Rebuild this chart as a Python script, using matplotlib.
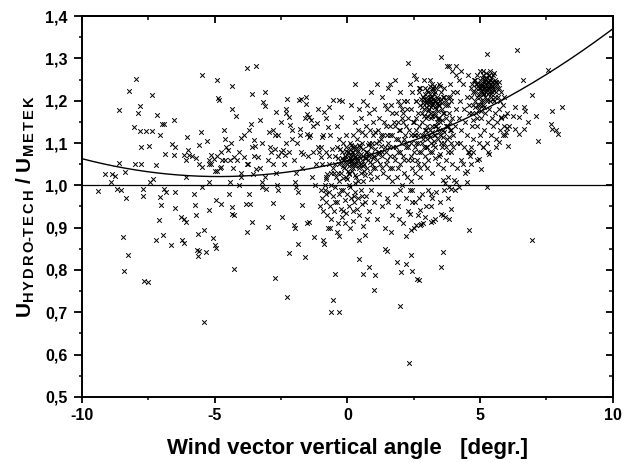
import numpy as np
import matplotlib
matplotlib.use("Agg")
import matplotlib.pyplot as plt
from matplotlib.ticker import MultipleLocator, FuncFormatter

# ---------------- data ----------------
fit_coef = [1.058, 0.01535, 0.001585]   # quadratic fit: a + b*x + c*x^2
ref_level = 1.0

pts_sparse = [
    (-9.39,0.986),(-9.12,1.028),(-8.87,1.028),(-8.75,1.021),(-8.9,1.008),(-8.68,0.992),(-8.55,0.988),
    (-8.62,1.053),(-8.6,1.179),(-8.38,1.031),(-8.34,0.969),(-8.46,0.878),(-8.25,0.835),(-8.43,0.798),
    (-8.24,1.224),(-8.03,1.139),(-8.0,1.051),(-7.79,1.051),(-7.97,1.252),(-7.9,1.171),(-7.82,1.187),
    (-7.82,1.128),(-7.58,1.128),(-7.37,1.128),(-7.78,1.09),(-7.46,1.093),(-7.70,0.992),(-7.72,0.976),
    (-7.37,1.214),(-7.43,1.008),(-7.31,1.016),(-7.66,0.774),(-7.51,0.772),(-7.2,1.049),(-7.16,1.167),
    (-7.05,1.120),(-7.0,1.146),(-6.9,1.146),(-7.08,0.972),(-7.02,0.953),(-7.1,0.917),(-7.22,0.870),
    (-6.93,0.882),(-6.9,0.992),(-6.82,0.984),(-6.88,1.073),(-6.55,1.154),(-6.6,1.098),(-6.49,1.090),
    (-6.65,0.858),(-6.52,1.071),(-6.5,0.984),(-6.26,0.925),(-6.14,0.921),(-6.5,0.947),(-6.07,0.913),
    (-6.14,0.864),(-6.22,0.870),(-6.1,1.020),(-6.04,1.114),(-6.14,1.071),(-5.96,1.071),(-6.1,1.059),
    (-6.0,1.083),(-5.84,1.069),(-5.7,1.065),(-5.79,0.98),(-5.76,0.953),(-5.72,0.929),(-5.64,0.886),
    (-5.66,0.848),(-5.61,0.845),(-5.64,0.833),(-5.39,0.677),(-5.61,1.051),(-5.46,1.043),(-5.59,1.096),
    (-5.46,0.996),(-5.52,1.126),(-5.46,1.261),(-5.23,1.061),(-5.04,1.063),(-5.15,1.051),(-5.0,1.035),
    (-5.23,1.008),(-5.15,1.071),(-5.28,1.106),(-5.33,0.843),(-5.40,0.894),(-5.08,0.876),(-5.0,0.858),
    (-4.96,0.853),(-5.23,0.942),(-4.96,0.966),(-4.77,0.955),(-4.93,1.248),(-4.86,1.207),(-4.83,1.202),
    (-4.75,1.079),(-4.72,1.059),(-4.90,1.035),(-4.78,1.043),(-4.66,1.130),(-4.63,1.110),(-4.56,1.091),
    (-4.49,1.083),(-4.42,1.061),(-4.27,1.067),(-4.34,1.236),(-4.34,1.181),(-4.42,1.008),(-4.45,0.980),
    (-4.34,0.949),(-4.27,0.929),(-4.35,0.932),(-4.27,0.803),(-4.19,1.165),(-4.15,1.059),(-4.0,1.112),
    (-4.02,1.020),(-4.1,1.0),(-3.89,1.067),(-3.74,1.051),(-3.82,0.955),(-3.67,0.955),(-3.79,0.890),
    (-3.71,0.980),(-3.65,1.146),(-3.58,1.217),(-3.5,1.108),(-3.47,1.094),(-3.43,1.039),(-3.55,1.028),
    (-3.36,1.067),(-3.28,1.154),(-3.43,1.283),(-3.79,1.277),(-3.58,0.913),(-3.21,1.008),(-3.21,0.996),
    (-3.06,0.992),(-3.18,1.197),(-3.09,1.187),(-3.1,1.220),(-2.97,1.126),(-3.0,0.902),(-2.87,1.079),
    (-2.82,1.051),(-2.74,1.087),(-2.74,1.118),(-2.62,1.120),(-2.70,1.173),(-2.67,1.0),(-2.82,0.958),
    (-2.74,0.782),(-2.6,0.988),(-2.5,1.079),(-2.42,1.083),(-2.35,1.071),(-2.48,0.924),(-2.32,1.181),
    (-2.26,1.205),(-2.3,1.17),(-2.2,1.161),(-2.26,0.736),(-2.2,0.839),(-2.15,1.142),(-2.1,1.11),
    (-2.0,0.906),(-1.98,0.898),(-1.98,1.008),(-1.93,0.996),(-1.85,0.984),(-1.85,0.862),(-1.83,1.201),
    (-1.75,1.205),(-1.80,1.134),(-1.75,1.079),(-1.68,1.075),(-1.71,0.953),(-1.6,0.831),(-1.56,1.209),
    (-1.56,1.193),(-1.53,1.168),(-1.45,1.162),(-1.38,1.154),(-1.53,1.122),(-1.45,1.114),(-1.45,0.913),
    (-1.52,0.910),(-1.3,1.079),(-1.26,0.878),(-1.23,1.0),(-1.15,1.147),(-1.1,1.091),(-1.07,1.079),
    (-1.0,1.067),(-0.97,1.114),(-0.92,0.870),(-0.88,0.861),(-0.89,1.173),(-0.85,1.0),(-0.8,0.98),
    (-0.8,1.016),(-0.77,1.028),(-0.74,1.138),(-0.7,1.185),(-0.65,0.898),(-0.62,0.701),(-0.53,0.728),
    (-0.54,1.203),(-0.47,0.791),(-0.32,0.701),(-0.32,1.203),(-0.24,1.162),(-0.39,0.890),
    (0.44,0.827),(0.82,0.807),(0.59,0.791),(0.67,0.882),(1.01,0.752),(1.04,0.787),(1.42,0.850),
    (1.5,0.845),(1.88,0.819),(2.03,0.795),(2.0,0.714),(2.22,0.813),(2.43,0.797),(2.4,0.835),
    (2.63,0.779),(2.7,0.777),(2.34,0.579),(3.54,0.807),(3.62,0.843),(3.69,0.925),(3.84,0.921),
    (3.54,0.933),(3.16,0.913),(3.22,0.916),(2.77,0.909),(2.59,0.906),(2.72,0.906),(2.4,0.894),
    (2.37,0.933),(2.72,0.942),(2.93,0.925),(2.42,0.961),(4.6,0.894),(4.87,1.059),(4.97,1.063),
    (5.05,1.039),(5.13,1.091),(5.35,1.075),(5.28,0.996),(5.28,1.311),(6.41,1.319),(6.61,1.248),
    (6.64,1.185),(6.68,1.177),(6.47,1.161),(6.79,1.150),(6.67,1.134),(6.47,1.122),(6.25,1.165),
    (6.3,1.185),(6.32,1.134),(6.1,1.14),(6.03,1.135),(5.98,1.125),(5.93,1.120),(6.07,1.093),
    (5.8,1.161),(5.95,1.165),(5.73,1.102),(6.94,0.870),(6.94,1.214),(7.12,1.165),(7.2,1.106),
    (7.58,1.272),(7.7,1.176),(7.66,1.144),(7.73,1.134),(7.85,1.13),(7.93,1.122),(8.09,1.185),
    (3.54,1.303),(2.28,1.29),(3.77,1.283),(3.84,1.283),(4.1,1.283),(2.57,1.252),(3.6,1.012),
    (3.68,1.006),(3.16,0.98),(3.84,0.996),(3.9,0.992),(4.22,0.996),(4.1,1.008),(4.03,1.012),
    (4.52,1.008),(4.52,1.035),(4.67,1.051),(4.6,1.079),(4.75,1.079),(4.67,1.091),
]

pts_midleft = [
    (-3.0,1.06),(-2.9,1.09),(-3.3,1.04),(-3.2,1.1),(-2.6,1.07),(-2.4,1.05),(-2.2,1.08),(-2.0,1.06),
    (-1.9,1.1),(-1.7,1.04),(-1.5,1.07),(-1.4,1.12),(-1.2,1.05),(-1.0,1.09),(-0.9,1.12),(-0.8,1.08),
    (-2.8,1.13),(-2.5,1.15),(-2.1,1.13),(-1.6,1.16),(-1.3,1.14),(-1.1,1.18),(-3.6,1.09),(-3.8,1.05),
    (-4.1,1.08),(-4.3,1.04),(-4.6,1.06),(-3.9,1.12),(-3.5,1.07),(-2.3,1.1),(-1.8,1.12),(-0.95,1.05),
    (-0.7,1.07),(-3.1,1.02),(-2.7,1.03),(-1.95,1.03),(-1.35,1.02),(-3.7,1.13),(-4.4,1.1),(-4.9,1.07),
    (-5.2,1.05),(-4.8,1.04),(-4.0,1.03),
]

pts_core0 = [
    (-0.55,1.04),(-0.48,1.07),(-0.42,1.02),(-0.38,1.09),(-0.33,1.05),(-0.3,1.11),(-0.25,1.03),
    (-0.22,1.08),(-0.18,1.06),(-0.15,1.1),(-0.12,1.04),(-0.1,1.07),(-0.06,1.02),(-0.04,1.09),
    (0.0,1.05),(0.02,1.08),(0.05,1.06),(0.07,1.03),(0.1,1.1),(0.12,1.07),(0.14,1.05),(0.17,1.08),
    (0.2,1.04),(0.22,1.06),(0.25,1.09),(0.27,1.07),(0.3,1.05),(0.32,1.02),(0.35,1.08),(0.37,1.11),
    (0.4,1.06),(0.43,1.04),(0.45,1.07),(0.48,1.09),(0.5,1.05),(0.53,1.03),(0.56,1.1),(0.6,1.07),
    (0.63,1.05),(0.66,1.12),(0.7,1.08),(0.73,1.04),(0.76,1.06),(0.8,1.1),(0.83,1.07),(0.86,1.03),
    (0.9,1.09),(0.93,1.05),(0.97,1.12),(1.0,1.07),(1.04,1.04),(1.08,1.1),(1.12,1.06),(1.15,1.13),
    (1.2,1.08),(1.24,1.05),(1.28,1.11),(1.32,1.07),(1.36,1.03),(1.4,1.09),(1.45,1.14),(1.5,1.06),
    (1.55,1.1),(-0.2,1.065),(0.08,1.055),(0.15,1.075),(0.28,1.045),(0.38,1.065),(0.18,1.035),
    (0.02,1.035),(-0.08,1.055),(0.45,1.095),(0.6,1.045),(0.72,1.065),(0.88,1.075),(0.55,1.06),
    (0.33,1.085),(0.1,1.085),(-0.28,1.085),(-0.35,1.03),(0.65,1.025),(0.95,1.04),(1.1,1.02),
    (1.3,1.04),(0.4,1.13),(0.7,1.14),(0.2,1.12),(-0.05,1.12),(0.95,1.15),(1.2,1.16),(0.5,1.16),
    (0.8,1.17),(1.0,1.18),(0.3,1.15),(0.6,1.2),(0.9,1.22),(1.3,1.21),(1.6,1.24),(1.4,1.19),
    (1.8,1.25),(2.0,1.22),(1.1,1.24),(0.3,1.24),(0.75,1.19),(1.7,1.17),(1.9,1.2),(2.1,1.17),
    (1.55,1.23),(0.45,1.18),(0.15,1.19),(-0.2,1.2),(-0.4,1.14),(-0.65,1.12),(-0.8,1.16),
]

pts_core0_extra = [
    (-0.1,1.062),(0.0,1.072),(0.05,1.045),(0.1,1.065),(0.15,1.058),(0.2,1.078),(0.25,1.052),
    (0.3,1.068),(0.35,1.058),(0.4,1.082),(0.12,1.095),(0.22,1.088),(-0.05,1.082),(0.3,1.092),
    (0.5,1.075),(0.58,1.085),(0.65,1.065),(0.75,1.078),(0.85,1.055),(0.95,1.065),(1.05,1.085),
    (1.15,1.075),(1.25,1.092),(0.42,1.048),(0.18,1.048),(-0.15,1.045),(-0.25,1.055),(0.08,1.028),
    (0.28,1.025),(0.62,1.035),(0.78,1.095),(0.92,1.1),(1.18,1.105),(1.35,1.12),(1.45,1.08),
    (1.05,1.125),(0.85,1.13),(0.55,1.125),(-0.35,1.065),(-0.45,1.05),(-0.58,1.085),(-0.62,1.03),
    (-0.7,1.05),(-0.15,1.018),(0.4,1.01),(0.05,1.0),(-0.25,0.99),(0.25,0.975),(0.55,0.975),
]

pts_below0 = [
    (-0.95,0.97),(-0.9,0.94),(-0.85,0.99),(-0.8,0.96),(-0.75,0.93),(-0.7,0.985),(-0.65,0.95),
    (-0.6,0.92),(-0.55,0.975),(-0.5,0.94),(-0.45,0.995),(-0.4,0.96),(-0.35,0.91),(-0.3,0.98),
    (-0.25,0.945),(-0.2,0.925),(-0.15,0.99),(-0.1,0.965),(-0.05,0.935),(0.0,0.98),(0.05,0.95),
    (0.1,0.995),(0.15,0.97),(0.2,0.915),(0.25,0.96),(0.3,0.985),(0.35,0.945),(0.4,0.97),
    (0.45,0.93),(0.5,0.99),(0.55,0.955),(0.6,0.905),(0.7,0.975),(0.8,0.94),(0.9,0.99),(1.0,0.96),
    (1.1,0.92),(1.2,0.98),(1.3,0.95),(1.4,0.9),(1.5,0.97),(-0.6,1.0),(-0.3,1.01),(0.0,1.015),
    (0.3,1.005),(-0.8,1.02),(-0.5,1.03),(0.6,1.01),(0.9,1.015),(-0.72,0.9),(-0.3,0.88),(0.1,0.9),
    (0.45,0.87),(-0.1,0.91),(0.2,0.94),(-0.45,0.96),(-0.15,0.94),(0.65,0.96),(0.75,0.92),
    (-1.05,0.95),(-1.0,0.99),
    (1.55,0.96),(1.7,0.93),(1.8,0.98),(1.9,0.95),(2.0,0.99),(2.1,0.91),(2.2,0.97),(2.3,0.94),
    (2.45,0.99),(2.55,0.96),(2.65,0.93),(2.8,0.98),(2.95,0.95),(1.65,0.89),(2.2,0.88),(2.5,0.9),
    (2.85,0.91),(1.95,0.92),(2.35,0.99),(2.7,0.97),
    (3.05,0.99),(3.2,0.97),(3.35,0.985),(3.5,0.96),(3.65,0.99),(3.8,0.97),(3.9,0.945),(3.3,0.92),
    (3.6,0.93),(4.05,0.99),(3.15,0.95),
]

pts_band = [
    (1.55,1.02),(1.6,1.07),(1.62,1.12),(1.68,1.04),(1.72,1.09),(1.75,1.15),(1.8,1.06),(1.84,1.11),
    (1.88,1.02),(1.92,1.08),(1.95,1.13),(2.0,1.05),(2.03,1.1),(2.07,1.16),(2.1,1.07),(2.14,1.03),
    (2.18,1.12),(2.22,1.09),(2.25,1.18),(2.3,1.06),(2.34,1.13),(2.38,1.1),(2.42,1.04),(2.46,1.15),
    (2.5,1.08),(2.54,1.12),(2.58,1.2),(2.62,1.06),(2.66,1.1),(2.7,1.14),(2.74,1.02),(2.78,1.08),
    (2.82,1.17),(2.86,1.11),(2.9,1.05),(2.94,1.13),(2.98,1.09),(1.7,1.01),(2.05,1.0),(2.4,1.01),
    (2.75,1.04),(2.2,1.14),(1.85,1.17),(2.6,1.16),(2.45,1.22),(2.15,1.2),(1.98,1.19),(2.35,1.24),
    (2.7,1.23),(2.9,1.25),(2.52,1.26),(1.65,1.19),(2.85,1.21),(2.55,1.03),(2.25,1.02),(1.9,1.04),
    (1.58,1.09),(2.12,1.11),(2.4,1.07),(2.68,1.12),
    (2.5,1.12),(2.6,1.1),(2.7,1.08),(2.8,1.12),(2.9,1.09),(3.0,1.11),(3.05,1.06),(3.1,1.13),
    (3.15,1.1),(3.2,1.08),(3.25,1.12),(3.3,1.09),(3.35,1.14),(3.4,1.11),(3.45,1.07),(3.5,1.12),
    (3.55,1.09),(3.6,1.13),(3.65,1.1),(3.7,1.06),(3.75,1.11),(3.8,1.08),(3.85,1.13),(3.9,1.1),
    (3.95,1.05),(4.0,1.09),(3.0,1.04),(3.2,1.03),(3.4,1.05),(3.6,1.04),(3.8,1.02),(2.95,1.13),
    (3.12,1.115),(3.28,1.105),(3.45,1.125),(3.62,1.115),(3.78,1.14),(3.92,1.13),(3.58,1.155),
    (3.72,1.16),(3.38,1.15),(3.2,1.14),
]

pts_band_extra = [
    (1.25,1.12),(1.38,1.15),(1.48,1.12),(1.6,1.14),(1.7,1.12),(1.8,1.14),(1.9,1.11),(2.0,1.13),
    (2.1,1.15),(2.2,1.1),(2.3,1.16),(2.4,1.12),(2.5,1.15),(2.6,1.13),(1.3,1.08),(1.45,1.05),
    (1.6,1.04),(1.75,1.07),(1.85,1.09),(2.0,1.08),(2.15,1.06),(2.3,1.09),(2.45,1.06),(2.55,1.09),
    (2.65,1.05),(1.5,1.18),(1.9,1.15),(2.25,1.2),(2.4,1.18),(2.05,1.18),
    (2.82,1.1),(2.9,1.12),(3.0,1.09),(3.08,1.12),(3.18,1.125),(3.24,1.095),(3.32,1.12),(3.42,1.135),
    (3.52,1.1),(3.64,1.125),(3.7,1.14),(3.82,1.115),(3.88,1.15),(3.98,1.12),(3.5,1.075),(3.3,1.065),
    (3.1,1.08),(2.92,1.07),(3.7,1.09),(3.9,1.08),
]

pts_core3 = [
    (2.6,1.2),(2.65,1.17),(2.7,1.22),(2.75,1.19),(2.8,1.15),(2.85,1.21),(2.88,1.18),(2.92,1.23),
    (2.95,1.16),(3.0,1.2),(3.02,1.14),(3.05,1.22),(3.08,1.18),(3.1,1.25),(3.12,1.2),(3.15,1.16),
    (3.18,1.21),(3.2,1.19),(3.22,1.23),(3.25,1.17),(3.28,1.2),(3.3,1.14),(3.32,1.22),(3.35,1.18),
    (3.38,1.21),(3.4,1.16),(3.43,1.19),(3.45,1.24),(3.48,1.2),(3.5,1.15),(3.53,1.22),(3.56,1.18),
    (3.6,1.21),(3.63,1.17),(3.66,1.23),(3.7,1.19),(3.74,1.14),(3.78,1.21),(3.82,1.17),(3.86,1.24),
    (3.9,1.2),(3.95,1.16),(4.0,1.22),(2.98,1.195),(3.07,1.205),(3.14,1.185),(3.24,1.205),
    (3.36,1.195),(3.04,1.175),(3.18,1.225),(2.9,1.205),(3.3,1.185),(3.12,1.215),(2.82,1.185),
    (3.42,1.175),(3.2,1.165),(3.0,1.225),(3.26,1.235),
    (2.78,1.205),(2.86,1.195),(2.93,1.215),(2.96,1.185),(3.01,1.205),(3.06,1.19),(3.1,1.21),
    (3.16,1.2),(3.22,1.195),(3.27,1.215),(3.33,1.2),(3.4,1.205),(3.47,1.19),(3.52,1.205),
    (3.58,1.195),(3.65,1.21),(3.72,1.2),(3.1,1.235),(3.2,1.24),(3.35,1.23),(3.5,1.235),
    (3.02,1.165),(3.15,1.17),(3.3,1.165),(3.45,1.16),(3.6,1.17),(2.9,1.165),(3.8,1.19),
    (3.88,1.21),(2.75,1.23),
    (4.05,1.14),(4.1,1.18),(4.12,1.22),(4.15,1.1),(4.2,1.16),(4.25,1.2),(4.28,1.06),(4.3,1.13),
    (4.35,1.24),(4.38,1.18),(4.4,1.09),(4.45,1.15),(4.5,1.21),(4.52,1.12),(4.55,1.26),(4.6,1.17),
    (4.62,1.07),(4.65,1.23),(4.7,1.14),(4.72,1.19),(4.75,1.11),(4.78,1.25),(4.2,1.25),(4.3,1.27),
    (4.08,1.26),(3.95,1.27),(4.45,1.03),(4.15,1.04),(4.35,1.05),(4.55,1.08),(4.25,1.1),
]

pts_core5 = [
    (4.65,1.21),(4.7,1.24),(4.75,1.22),(4.8,1.2),(4.82,1.25),(4.85,1.23),(4.88,1.21),(4.9,1.26),
    (4.92,1.19),(4.95,1.23),(4.98,1.21),(5.0,1.25),(5.02,1.22),(5.05,1.2),(5.08,1.24),(5.1,1.22),
    (5.12,1.26),(5.15,1.23),(5.18,1.21),(5.2,1.25),(5.22,1.22),(5.25,1.24),(5.28,1.2),(5.3,1.23),
    (5.32,1.26),(5.35,1.22),(5.38,1.25),(5.4,1.21),(5.42,1.24),(5.45,1.22),(5.48,1.26),(5.5,1.23),
    (5.53,1.2),(5.56,1.25),(5.6,1.22),(5.64,1.24),(5.68,1.21),(5.72,1.23),(5.76,1.2),(5.8,1.22),
    (5.85,1.19),(5.9,1.21),(5.05,1.235),(5.15,1.245),(5.25,1.235),(5.35,1.245),(5.45,1.235),
    (5.2,1.23),(5.3,1.215),(5.1,1.215),(5.4,1.23),(5.0,1.23),(5.5,1.245),(5.22,1.265),(5.36,1.27),
    (5.12,1.27),(4.98,1.27),(5.28,1.255),(4.9,1.24),
    (4.95,1.215),(5.0,1.24),(5.05,1.225),(5.1,1.235),(5.15,1.215),(5.2,1.24),(5.25,1.225),
    (5.3,1.245),(5.35,1.235),(5.4,1.215),(5.45,1.245),(5.5,1.225),(5.55,1.235),(5.6,1.245),
    (5.18,1.255),(5.32,1.26),(5.42,1.255),(5.08,1.255),(5.26,1.205),(5.48,1.205),(5.12,1.2),
    (5.38,1.2),(5.58,1.21),(5.65,1.23),(4.85,1.24),(4.8,1.22),(5.7,1.245),(5.52,1.265),
    (4.7,1.17),(4.8,1.185),(4.9,1.16),(5.0,1.19),(5.05,1.175),(4.6,1.19),(5.15,1.185),(4.75,1.155),
    (4.85,1.17),(4.9,1.14),(4.95,1.18),(5.0,1.12),(5.05,1.16),(5.1,1.19),(5.15,1.13),(5.2,1.17),
    (5.25,1.1),(5.3,1.15),(5.35,1.18),(5.4,1.12),(5.45,1.16),(5.5,1.14),(5.55,1.17),(5.6,1.11),
    (5.65,1.15),(5.7,1.18),(5.75,1.13),(5.8,1.16),(5.9,1.14),(6.0,1.17),(5.1,1.09),(5.3,1.08),
    (5.6,1.09),(5.85,1.12),(4.95,1.1),
]

x_ticks = [-10, -5, 0, 5, 10]
y_ticks = [0.5, 0.6, 0.7, 0.8, 0.9, 1.0, 1.1, 1.2, 1.3, 1.4]

# ---------------- plotting ----------------
plt.rcParams['font.family'] = ['Liberation Sans', 'DejaVu Sans']
plt.rcParams['mathtext.fontset'] = 'custom'
plt.rcParams['mathtext.rm'] = 'Liberation Sans:bold'
plt.rcParams['mathtext.bf'] = 'Liberation Sans:bold'
plt.rcParams['mathtext.it'] = 'Liberation Sans:bold'

fig = plt.figure(figsize=(6.31, 4.63), dpi=100)
ax = fig.add_axes([0.130, 0.143, 0.841, 0.822])

all_pts = np.array(pts_sparse + pts_midleft + pts_core0 + pts_core0_extra + pts_below0
                   + pts_band + pts_band_extra + pts_core3 + pts_core5)
ax.scatter(all_pts[:, 0], all_pts[:, 1], marker='x', s=11, color='black', linewidths=0.7, zorder=3)

xf = np.linspace(-10, 10, 300)
yf = fit_coef[0] + fit_coef[1] * xf + fit_coef[2] * xf ** 2
ax.plot(xf, yf, color='black', lw=1.0, zorder=4)
ax.axhline(ref_level, color='black', lw=0.9, zorder=4)

ax.set_xlim(-10, 10)
ax.set_ylim(0.5, 1.4)
ax.set_xticks(x_ticks)
ax.set_yticks(y_ticks)
ax.xaxis.set_minor_locator(MultipleLocator(2.5))
ax.yaxis.set_minor_locator(MultipleLocator(0.05))
ax.yaxis.set_major_formatter(FuncFormatter(lambda v, p: f"{v:.1f}".replace('.', ',')))
ax.xaxis.set_major_formatter(FuncFormatter(lambda v, p: f"{v:.0f}"))

ax.tick_params(axis='x', which='major', direction='out', length=4, width=1.3, labelsize=11.5, pad=4)
ax.tick_params(axis='y', which='major', direction='out', length=5.5, width=1.3, labelsize=11.5, pad=5)
ax.tick_params(axis='both', which='minor', direction='out', length=2.5, width=1.1)
for lab in ax.get_xticklabels() + ax.get_yticklabels():
    lab.set_fontweight('bold')

# mirrored inward ticks on top and right
axt = ax.secondary_xaxis('top')
axt.set_xticks(x_ticks)
axt.xaxis.set_minor_locator(MultipleLocator(2.5))
axt.tick_params(which='major', direction='in', length=5, width=1.3, labeltop=False)
axt.tick_params(which='minor', direction='in', length=3, width=1.1)
axr = ax.secondary_yaxis('right')
axr.set_yticks(y_ticks)
axr.yaxis.set_minor_locator(MultipleLocator(0.05))
axr.tick_params(which='major', direction='in', length=5, width=1.3, labelright=False)
axr.tick_params(which='minor', direction='in', length=3, width=1.1)
for s in list(ax.spines.values()) + [axt.spines['top'], axr.spines['right']]:
    s.set_linewidth(1.4)

ax.set_xlabel('Wind vector vertical angle   [degr.]', fontsize=16, fontweight='bold', labelpad=11)
ax.set_ylabel(r'$\mathbf{U}_{\mathrm{H\,Y\,D\,R\,O\text{-}T\,E\,C\,H}}$ / $\mathbf{U}_{\mathrm{M\,E\,T\,E\,K}}$',
              fontsize=15, fontweight='bold', labelpad=6)

fig.savefig('out.png', dpi=100)
